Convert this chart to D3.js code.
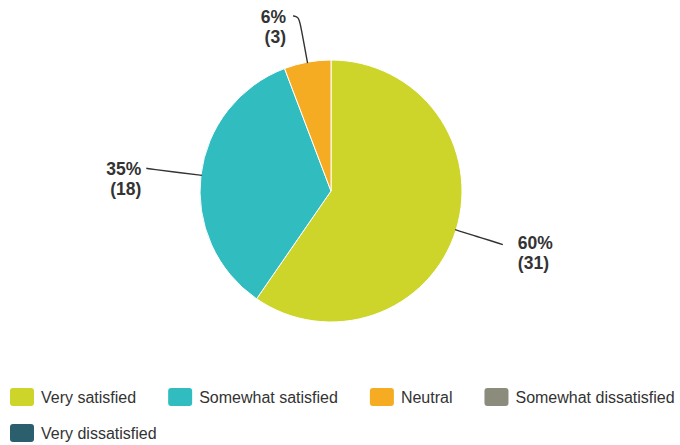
<!DOCTYPE html>
<html><head><meta charset="utf-8">
<script src="https://cdn.jsdelivr.net/npm/d3@7"></script>
<style>body{margin:0;background:#fff}svg{display:block}</style>
</head><body>
<svg id="c" width="680" height="445"></svg>
<script>
const categories = ["Very satisfied","Somewhat satisfied","Neutral","Somewhat dissatisfied","Very dissatisfied"];
const counts = [31, 18, 3, 0, 0];
const percentLabels = ["60%","35%","6%","0%","0%"];
const colors = ["#cdd52a","#31bcbf","#f5ac22","#8b8c7b","#2b5f6e"];

const W = 680, H = 445;
const cx = 331, cy = 191, R = 131;
const svg = d3.select("#c");
const g = svg.append("g").attr("transform", `translate(${cx},${cy})`);

const pie = d3.pie().value(d => d.v).sort(null);
const data = categories.map((c, i) => ({c, v: counts[i], p: percentLabels[i], col: colors[i]}));
const arcs = pie(data);
const arc = d3.arc().innerRadius(0).outerRadius(R);

g.selectAll("path.slice").data(arcs.filter(a => a.data.v > 0)).join("path")
  .attr("class","slice").attr("d", arc).attr("fill", d => d.data.col)
  .attr("stroke","#fff").attr("stroke-width",1);

function pt(a, r){ return [Math.sin(a)*r, -Math.cos(a)*r]; }
const line = d3.line().curve(d3.curveBasis);
arcs.filter(a => a.data.v > 0).forEach(a => {
  const m = (a.startAngle + a.endAngle)/2;
  const p0 = pt(m, R - 1), p1 = pt(m, R + 22), p2 = pt(m, 180);
  const right = Math.sin(m) > 0;
  const top = Math.abs(Math.sin(m)) < 0.3;
  const p3 = [p2[0] + (right ? 2 : -6), p2[1] - 1];
  let pts = right ? [p0, p1, p1, p2] : [p0, p1, p2, p3];
  if (!right && top) {
    const q = pt(m, 172);
    pts = [p0, pt(m, 150), q, [q[0]-2, q[1]-5], [q[0]-7, q[1]-6]];
  }
  g.append("path").attr("d", line(pts)).attr("fill","none")
    .attr("stroke","#333").attr("stroke-width",1.4);
  const end = pts[pts.length-1];
  const tx = right ? end[0] + 15 : end[0] - (top ? 7 : 5);
  const ty = end[1] + (top ? 7 : (right ? 4 : 7));
  const t = g.append("text").attr("x", tx).attr("y", ty)
    .attr("text-anchor", right ? "start" : "end")
    .attr("font-family","Liberation Sans, Arial, sans-serif")
    .attr("font-weight","bold").attr("font-size",17.5).attr("fill","#333");
  t.append("tspan").attr("x", tx).text(a.data.p);
  t.append("tspan").attr("x", tx).attr("dy", 20).text(`(${a.data.v})`);
});

// legend
const lg = svg.append("g");
let x = 10, y = 388;
data.forEach(d => {
  const item = lg.append("g");
  const txt = item.append("text").attr("x", 31).attr("y", 15)
    .attr("font-family","Liberation Sans, Arial, sans-serif")
    .attr("font-size",16).attr("fill","#333").text(d.c);
  const w = 31 + txt.node().getComputedTextLength();
  if (x + w > W) { x = 10; y += 36; }
  item.attr("transform", `translate(${x},${y})`);
  item.insert("rect","text").attr("width",24).attr("height",18).attr("rx",3)
    .attr("fill", d.col);
  x += w + 32;
});
</script>
</body></html>
